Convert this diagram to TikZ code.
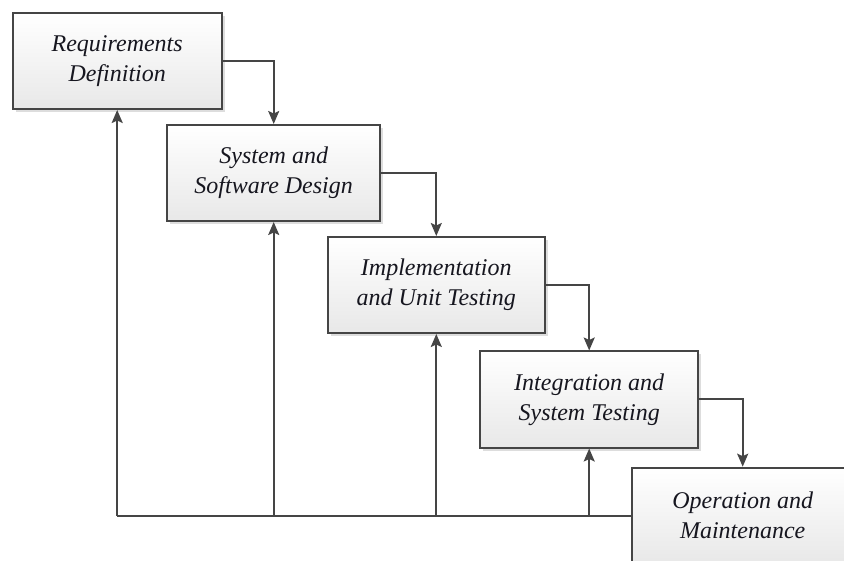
\documentclass[tikz,border=0pt]{standalone}
\usepackage{fontspec}
\setmainfont{Liberation Serif}
\usetikzlibrary{arrows.meta,shadows}

\definecolor{edge}{HTML}{454545}
\definecolor{ink}{HTML}{16161F}

\tikzset{
  phase/.style={
    draw=edge, line width=2pt, rectangle,
    top color=white, bottom color=black!9,
    drop shadow={shadow xshift=3pt, shadow yshift=-3pt, fill=black!22, opacity=0.6},
    minimum height=96pt, align=center, inner sep=0pt,
    font=\fontsize{24}{30}\selectfont\itshape, text=ink
  },
  flow/.style={draw=edge, line width=2pt,
    -{Stealth[length=13pt, width=11pt, inset=2.5pt]}},
  link/.style={draw=edge, line width=2pt}
}

\begin{document}
\begin{tikzpicture}[x=1pt, y=-1pt]
  \useasboundingbox (0,0) rectangle (844,561);
  \clip (0,0) rectangle (844,561);

  % the five stages, stepping down to the right
  \node[phase, minimum width=209pt] (b1) at (117.2,61)   {Requirements\\Definition};
  \node[phase, minimum width=213pt] (b2) at (273.7,173)  {System and\\Software Design};
  \node[phase, minimum width=217pt] (b3) at (436.3,285)  {Implementation\\and Unit Testing};
  \node[phase, minimum width=218pt] (b4) at (589.2,399.5) {Integration and\\System Testing};
  \node[phase, minimum width=222pt] (b5) at (742.7,515.7) {Operation and\\Maintenance};

  % forward flow from each stage to the next
  \draw[flow] (b1.east) -| (b2.north);
  \draw[flow] (b2.east) -| (b3.north);
  \draw[flow] (b3.east) -| (b4.north);
  \draw[flow] (b4.east) -| (b5.north);

  % feedback from maintenance back to every earlier stage
  \coordinate (fb) at (b1.south |- b5.west);
  \draw[link] (b5.west) -- (fb);
  \draw[flow] (fb) -- (b1.south);
  \draw[flow] (b2.south |- b5.west) -- (b2.south);
  \draw[flow] (b3.south |- b5.west) -- (b3.south);
  \draw[flow] (b4.south |- b5.west) -- (b4.south);
\end{tikzpicture}
\end{document}
